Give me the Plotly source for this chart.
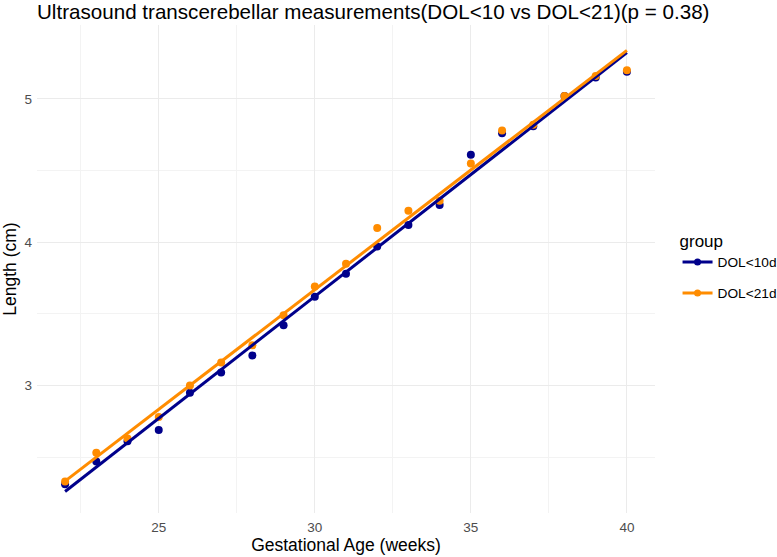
import numpy as np
import plotly.graph_objects as go

weeks = [22, 23, 24, 25, 26, 27, 28, 29, 30, 31, 32, 33, 34, 35, 36, 37, 38, 39, 40]
dol10 = [2.31, 2.47, 2.61, 2.69, 2.95, 3.09, 3.21, 3.42, 3.62, 3.78, 3.97, 4.12, 4.26, 4.61, 4.76, 4.81, 5.02, 5.15, 5.19]
dol21 = [2.33, 2.53, 2.63, 2.78, 3.00, 3.16, 3.28, 3.49, 3.69, 3.85, 4.10, 4.22, 4.29, 4.55, 4.78, 4.82, 5.02, 5.16, 5.20]
groups = ["DOL<10d", "DOL<21d"]
colors = ["#00008B", "#FF8C00"]
series = [dol10, dol21]

fig = go.Figure()
for name, col, ys in zip(groups, colors, series):
    fig.add_trace(go.Scatter(x=weeks, y=ys, mode="markers", showlegend=False,
                             marker=dict(color=col, size=8, line=dict(width=0))))
for name, col, ys in zip(groups, colors, series):
    b, a = np.polyfit(weeks, ys, 1)
    xs = [min(weeks), max(weeks)]
    fig.add_trace(go.Scatter(x=xs, y=[a + b * v for v in xs], mode="lines", showlegend=False,
                             line=dict(color=col, width=3)))
for name, col in zip(groups, colors):
    fig.add_trace(go.Scatter(x=[None], y=[None], mode="lines+markers", name=name, legendgroup=name,
                             line=dict(color=col, width=3), marker=dict(color=col, size=7)))

grid_major = "#EBEBEB"
grid_minor = "#F3F3F3"
fig.update_layout(
    width=777, height=557,
    margin=dict(l=37, r=122, t=25, b=44, autoexpand=False),
    plot_bgcolor="white", paper_bgcolor="white",
    font=dict(family="Liberation Sans, Arial, sans-serif", color="black"),
    title=dict(text="Ultrasound transcerebellar measurements(DOL<10 vs DOL<21)(p = 0.38)",
               x=0, xref="paper", xanchor="left", y=0.978, yref="container", yanchor="middle",
               font=dict(size=20.6, color="black")),
    xaxis=dict(range=[21.1, 40.9], tickvals=[25, 30, 35, 40], showgrid=True, gridcolor=grid_major,
               gridwidth=1.3, zeroline=False, showline=False, ticks="",
               tickfont=dict(size=13.5, color="#4D4D4D"), ticklabelstandoff=4,
               minor=dict(tickvals=[22.5, 27.5, 32.5, 37.5], showgrid=True, gridcolor=grid_minor, gridwidth=1),
               title=dict(text="Gestational Age (weeks)", font=dict(size=17.5, color="black"), standoff=3)),
    yaxis=dict(range=[2.11, 5.516], tickvals=[3, 4, 5], showgrid=True, gridcolor=grid_major,
               gridwidth=1.3, zeroline=False, showline=False, ticks="",
               tickfont=dict(size=13.5, color="#4D4D4D"), ticklabelstandoff=4,
               minor=dict(tickvals=[2.5, 3.5, 4.5], showgrid=True, gridcolor=grid_minor, gridwidth=1),
               title=dict(text="Length (cm)", font=dict(size=17.5, color="black"), standoff=3)),
    legend=dict(x=0.872, y=0.505, xref="container", xanchor="left", yanchor="middle",
                title=dict(text="group", font=dict(size=17)), font=dict(size=13.7),
                itemwidth=30, tracegroupgap=10),
)
fig.write_html("out.html")
